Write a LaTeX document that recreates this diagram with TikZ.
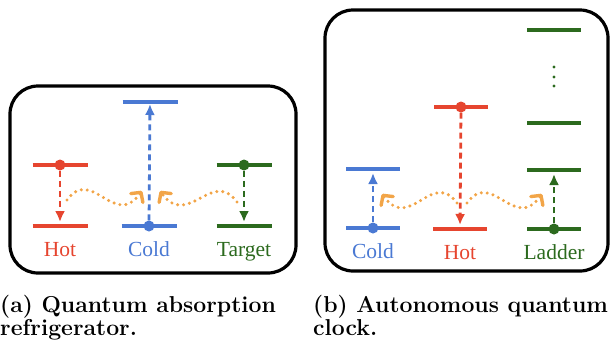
\documentclass[tikz,border=0pt]{standalone}
\usepackage{fontspec}
\usetikzlibrary{positioning, arrows.meta}
\newfontfamily\namefont{Liberation Serif}
\definecolor{hotc}{HTML}{E6452F}
\definecolor{coldc}{HTML}{4A79D3}
\definecolor{ladc}{HTML}{2C6A1E}
\definecolor{heatc}{HTML}{F2A548}
\tikzset{
    panel/.style={draw, line width=3.2pt, rounded corners=28pt, inner sep=0pt}, % the rounded frame round each system
    lvl/.style={line width=3.2pt}, % an energy level
    occ/.style={circle, fill, inner sep=0pt, minimum size=11pt}, % marks the occupied level
    jump/.style={line width=2.8pt, dash pattern=on 6pt off 4pt, -{Latex[length=11pt, width=10pt]}, shorten >=4pt}, % a transition
    heat/.style={heatc, line width=3.4pt, line cap=round, line join=round, dash pattern=on 0pt off 6pt, -{Straight Barb[length=7pt, width=15pt, line cap=round, line join=round]}}, % the coupling
    lab/.style={font=\namefont\fontsize{21.5}{24}\selectfont, inner sep=0pt, text height=14pt, text depth=5pt}, % names of the systems
    subcap/.style={font=\fontsize{23}{23}\selectfont\bfseries, align=left, inner sep=0pt, anchor=base west}, % subfigure captions
}

\begin{document}
\begin{tikzpicture}[x=1pt, y=-1pt]
\useasboundingbox (0,0) rectangle (610,341);
% (a) absorption refrigerator
\node[panel, minimum width=286pt, minimum height=187pt] (boxA) at (153,179.5) {};
\coordinate (hotAup) at (60,165);
\coordinate (hotAdn) at (60,226);
\coordinate (coldAup) at (150,102);
\coordinate (coldAdn) at (149,226);
\coordinate (tgtAup) at (244,165);
\coordinate (tgtAdn) at (244,226);
\foreach \c/\col in {hotAup/hotc, hotAdn/hotc, coldAup/coldc, coldAdn/coldc, tgtAup/ladc, tgtAdn/ladc}
    \draw[lvl, \col] (\c) ++(-27.5,0) -- ++(55,0);
\node[occ, hotc] (hotApop) at (hotAup) {};
\node[occ, coldc] (coldApop) at (coldAdn) {};
\node[occ, ladc] (tgtApop) at (tgtAup) {};
\draw[jump, hotc] (hotApop) -- (hotAdn);
\draw[jump, coldc, shorten >=2pt] (coldApop) -- (coldAup);
\draw[jump, ladc] (tgtApop) -- (tgtAdn);
\node[lab, hotc, below=16pt of hotAdn] (hotAname) {Hot};
\node[lab, coldc, below=16pt of coldAdn] (coldAname) {Cold};
\node[lab, ladc, below=16pt of tgtAdn] (tgtAname) {Target};
\coordinate (wA1s) at (67,200);
\coordinate (wA1e) at (142,191);
\coordinate (wA2s) at (237,202);
\coordinate (wA2e) at (160,191);
\draw[heat] (wA1s) .. controls +(25,-34) and +(-28,38) .. (wA1e);
\draw[heat] (wA2s) .. controls +(-25,-34) and +(28,38) .. (wA2e);
\node[subcap] (capA) at (0,335) {(a) Quantum absorption\\refrigerator.};

% (b) autonomous clock
\node[panel, minimum width=283pt, minimum height=261pt] (boxB) at (466.5,140.5) {};
\coordinate (coldBup) at (373,169);
\coordinate (coldBdn) at (373,228);
\coordinate (hotBup) at (461,107);
\coordinate (hotBdn) at (460,229);
\coordinate (ladB3) at (554,30);
\coordinate (ladB2) at (554,123);
\coordinate (ladB1) at (554,170);
\coordinate (ladB0) at (554,229);
\foreach \c/\col in {coldBup/coldc, coldBdn/coldc, hotBup/hotc, hotBdn/hotc, ladB3/ladc, ladB2/ladc, ladB1/ladc, ladB0/ladc}
    \draw[lvl, \col] (\c) ++(-27,0) -- ++(54,0);
\foreach \y in {67,77,86}
    \fill[ladc] (554,\y) circle (1.6pt);
\node[occ, coldc] (coldBpop) at (coldBdn) {};
\node[occ, hotc] (hotBpop) at (hotBup) {};
\node[occ, ladc] (ladBpop) at (ladB0) {};
\draw[jump, coldc] (coldBpop) -- (coldBup);
\draw[jump, hotc] (hotBpop) -- (hotBdn);
\draw[jump, ladc] (ladBpop) -- (ladB1);
\node[lab, coldc, below=16pt of coldBdn] (coldBname) {Cold};
\node[lab, hotc, below=16pt of hotBdn] (hotBname) {Hot};
\node[lab, ladc, below=16pt of ladB0] (ladBname) {Ladder};
\coordinate (wB1s) at (457,203);
\coordinate (wB1e) at (382,194);
\coordinate (wB2s) at (467,203);
\coordinate (wB2e) at (542,194);
\draw[heat] (wB1s) .. controls +(-25,-34) and +(28,38) .. (wB1e);
\draw[heat] (wB2s) .. controls +(25,-34) and +(-28,38) .. (wB2e);
\node[subcap] (capB) at (313,335) {(b) Autonomous quantum\\clock.};
\end{tikzpicture}
\end{document}
